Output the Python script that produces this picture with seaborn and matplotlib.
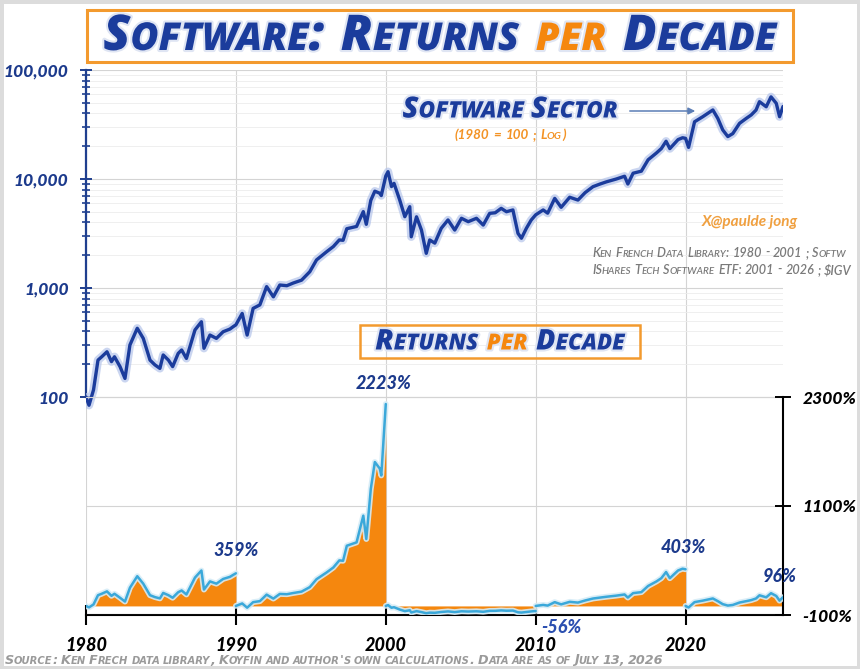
import numpy as np
import pandas as pd
import matplotlib
matplotlib.use("Agg")
import matplotlib.pyplot as plt
import matplotlib.patheffects as pe
import matplotlib.ticker as mticker
from matplotlib.offsetbox import TextArea, HPacker, AnnotationBbox
from matplotlib.patches import Rectangle, FancyArrowPatch
import seaborn as sns

# ---------------- data ----------------
years = [1980.0, 1980.2, 1980.5, 1980.8, 1981.05, 1981.4, 1981.7, 1981.9, 1982.27, 1982.6,
         1982.93, 1983.42, 1983.82, 1984.27, 1984.6, 1984.93, 1985.15, 1985.5, 1985.78, 1986.15,
         1986.38, 1986.7, 1987.27, 1987.7, 1987.87, 1988.27, 1988.7, 1989.15, 1989.6, 1989.82,
         1990.0, 1990.42, 1990.75, 1991.15, 1991.6, 1992.05, 1992.5, 1992.93, 1993.4, 1993.82,
         1994.38, 1994.93, 1995.38, 1996.05, 1996.5, 1996.9, 1997.15, 1997.4, 1998.05, 1998.5,
         1998.7, 1999.0, 1999.27, 1999.6, 1999.7, 2000.0,
         2000.15, 2000.38, 2000.55, 2000.93, 2001.27, 2001.6, 2001.7, 2002.05, 2002.38, 2002.7,
         2002.93, 2003.27, 2003.7, 2004.15, 2004.6, 2005.05, 2005.5, 2006.05, 2006.5, 2006.93,
         2007.3, 2007.7, 2008.05, 2008.48, 2008.82, 2009.05, 2009.38, 2009.7, 2010.0,
         2010.5, 2010.8, 2011.27, 2011.7, 2012.27, 2012.82, 2013.3, 2013.82, 2014.3, 2014.7,
         2015.38, 2015.93, 2016.15, 2016.5, 2017.05, 2017.5, 2018.05, 2018.38, 2018.7, 2018.95,
         2019.5, 2019.8, 2020.0,
         2020.2, 2020.6, 2021.15, 2021.82, 2022.15, 2022.48, 2022.82, 2023.15, 2023.6, 2024.05,
         2024.38, 2024.7, 2024.93, 2025.38, 2025.7, 2026.05, 2026.27, 2026.5]
index_values = [100, 84, 116, 218, 234, 260, 211, 234, 190, 148,
                300, 427, 345, 218, 197, 183, 243, 218, 190, 251,
                270, 226, 412, 490, 280, 370, 345, 397, 420, 442,
                459, 584, 370, 650, 700, 1030, 830, 1065, 1050, 1110,
                1180, 1410, 1810, 2150, 2400, 2760, 2740, 3500, 3670, 5020,
                3840, 6370, 7730, 7400, 7050, 10660,
                11670, 8520, 9120, 6410, 4510, 5570, 2950, 4500, 3400, 2080,
                2760, 2580, 3530, 4210, 3400, 4360, 4060, 4360, 3780, 4840,
                4900, 5380, 5010, 5200, 3170, 2860, 3530, 4200, 4690,
                5200, 4860, 6640, 5500, 6800, 6410, 7500, 8500, 9000, 9400,
                10000, 10600, 9000, 11300, 11800, 15000, 17300, 19000, 22200, 19000,
                23000, 23900, 23600,
                19500, 33500, 37300, 43000, 36000, 28200, 24500, 26100, 32400, 36000,
                38700, 42900, 51200, 46000, 56700, 49500, 37300, 46260]

decade_starts = [1980, 1990, 2000, 2010, 2020]
decade_labels = ["359%", "2223%", "-56%", "403%", "96%"]
x_ticks = [1980, 1990, 2000, 2010, 2020]
x_tick_labels = ["1980", "1990", "2000", "2010", "2020"]
y_ticks = [100, 1000, 10000, 100000]
y_tick_labels = ["100", "1,000", "10,000", "100,000"]
ret_ticks = [-100, 1100, 2300]
ret_tick_labels = ["-100%", "1100%", "2300%"]

# ---------------- style ----------------
sns.set_theme(style="white")
plt.rcParams['font.family'] = ['Lato', 'DejaVu Sans']

BLUE = "#1B3C9C"
NAVY = "#1C3A8C"
ORANGE = "#F5870E"
LBLUE = "#3AA8DA"
GRID = "#d4d4d4"
HEAD_FONT = ["Open Sans", "Lato", "DejaVu Sans"]

W, H = 860, 669
fig = plt.figure(figsize=(W / 100, H / 100), dpi=100)
fig.patch.set_facecolor("white")


def fx(px):
    return px / W


def fy(py):
    return 1 - py / H


rect = [fx(86), fy(615), fx(783) - fx(86), fy(70) - fy(615)]
ax1 = fig.add_axes(rect)
ax2 = ax1.twinx()

df = pd.DataFrame({"year": years, "index": index_values})

# ---------------- upper: log index ----------------
sns.lineplot(data=df, x="year", y="index", ax=ax1, color=BLUE, lw=2.4, zorder=3,
             path_effects=[pe.Stroke(linewidth=6, foreground="#b4c4ea", alpha=0.7), pe.Normal()])
ax1.set_yscale("log")
ax1.set_ylim(1, 100000)
ax1.set_xlim(1980, 2026.5)
ax1.set_xlabel("")
ax1.set_ylabel("")

ax1.yaxis.set_major_locator(mticker.FixedLocator(y_ticks))
ax1.yaxis.set_major_formatter(mticker.FixedFormatter(y_tick_labels))
minor = [m * 10 ** e for e in (2, 3, 4) for m in range(2, 10)]
ax1.yaxis.set_minor_locator(mticker.FixedLocator(minor))
ax1.yaxis.set_minor_formatter(mticker.NullFormatter())
ax1.set_xticks(x_ticks)
ax1.set_xticklabels(x_tick_labels)

ax1.grid(True, which="major", axis="y", color=GRID, lw=0.8)
ax1.grid(True, which="minor", axis="y", color="#ececec", lw=0.6)
ax1.grid(True, which="major", axis="x", color=GRID, lw=0.8)
ax1.set_axisbelow(True)

for s in ("top", "right"):
    ax1.spines[s].set_visible(False)
ax1.spines["left"].set_bounds(100, 100000)
ax1.spines["left"].set_color("#1F3F8F")
ax1.spines["left"].set_linewidth(1.6)
ax1.spines["bottom"].set_color("black")
ax1.spines["bottom"].set_linewidth(1.5)

ax1.tick_params(axis="y", which="major", direction="inout", length=9, width=1.4,
                color="#1F3F8F", left=True, pad=8, labelsize=12.5, labelcolor=NAVY)
ax1.tick_params(axis="y", which="minor", direction="inout", length=6, width=1.2,
                color="#1F3F8F", left=True)
ax1.tick_params(axis="x", which="major", direction="inout", length=14, width=1.5,
                color="black", bottom=True, pad=9, labelsize=13, labelcolor="black")
for lab in ax1.get_yticklabels():
    lab.set_fontweight("black")
    lab.set_fontstyle("italic")
for lab in ax1.get_xticklabels():
    lab.set_fontweight("black")
    lab.set_fontstyle("italic")

# ---------------- lower: returns per decade ----------------
segs = []
for i, d in enumerate(decade_starts):
    end = decade_starts[i + 1] if i + 1 < len(decade_starts) else 1e9
    seg = df[(df["year"] >= d) & (df["year"] <= end)].copy()
    seg["ret"] = (seg["index"] / seg["index"].iloc[0] - 1) * 100
    segs.append(seg)
    ax2.fill_between(seg["year"], 0, seg["ret"], color=ORANGE, lw=0, zorder=2)
    sns.lineplot(data=seg, x="year", y="ret", ax=ax2, color=LBLUE, lw=1.8, zorder=3,
                 path_effects=[pe.Stroke(linewidth=4.2, foreground="#d5ecf7", alpha=0.9), pe.Normal()])

ax2.set_ylim(-100, 5900)
ax2.set_xlim(1980, 2026.5)
ax2.set_ylabel("")
ax2.set_xlabel("")
ax2.set_yticks(ret_ticks)
ax2.set_yticklabels(ret_tick_labels)
ax2.grid(True, axis="y", color=GRID, lw=0.8)
ax2.grid(False, axis="x")
for s in ("top", "left", "bottom"):
    ax2.spines[s].set_visible(False)
ax2.spines["right"].set_bounds(-100, 2300)
ax2.spines["right"].set_color("black")
ax2.spines["right"].set_linewidth(1.5)
ax2.tick_params(axis="y", direction="inout", length=12, width=1.4, color="black",
                right=True, pad=8, labelsize=12.5, labelcolor="black")
for lab in ax2.get_yticklabels():
    lab.set_fontweight("black")
    lab.set_fontstyle("italic")

# decade labels
label_offsets = [(0, 23), (-2, 21), (26, -16), (-2, 22), (-3, 21)]
for seg, lab, (ox, oy) in zip(segs, decade_labels, label_offsets):
    xe = seg["year"].iloc[-1]
    ye = seg["ret"].iloc[-1]
    if lab == "2223%":
        ye = seg["ret"].max()
    col = "#2B4FB0" if lab.startswith("-") else NAVY
    ax2.annotate(lab, (xe, ye), xytext=(ox * 0.72, oy * 0.72), textcoords="offset points",
                 ha="center", va="center", fontsize=13, fontweight="black",
                 fontstyle="italic", color=col, zorder=6)


# ---------------- small-caps helper ----------------
def sc_word(word, color, size, ratio=0.78, weight="black", style="italic", family=None,
            effects=None):
    runs = []
    cur, cur_low = "", None
    for ch in word:
        low = ch.islower()
        if cur and low != cur_low:
            runs.append((cur, cur_low))
            cur = ""
        cur += ch
        cur_low = low
    if cur:
        runs.append((cur, cur_low))
    kids = []
    for r, low in runs:
        tp = dict(color=color, fontsize=size * (ratio if low else 1.0), fontweight=weight,
                  fontstyle=style)
        if family:
            tp["family"] = family
        if effects:
            tp["path_effects"] = effects
        kids.append(TextArea(r.upper() if low else r, textprops=tp))
    return HPacker(children=kids, align="baseline", pad=0, sep=0)


def sc_text(words, cx, cy, size, gap, align=(0.5, 0.5), **kw):
    boxes = [sc_word(w, c, size, **kw) for w, c in words]
    pack = HPacker(children=boxes, align="baseline", pad=0, sep=gap)
    ab = AnnotationBbox(pack, (fx(cx), fy(cy)), xycoords="figure fraction",
                        frameon=False, box_alignment=align, pad=0)
    fig.add_artist(ab)
    return ab


glow = [pe.withStroke(linewidth=3, foreground="#dfe5f3")]

# title
fig.add_artist(Rectangle((fx(87), fy(62)), fx(793) - fx(87), fy(10) - fy(62),
                         transform=fig.transFigure, fill=False, edgecolor="#F39A2E", lw=2.2))
sc_text([("Software:", BLUE), ("Returns", BLUE), ("per", ORANGE), ("Decade", BLUE)],
        440, 37, 35.5, 12, effects=glow, family=HEAD_FONT, weight="heavy")

# sector annotation
sc_text([("Software", BLUE), ("Sector", BLUE)], 510, 110, 21, 5, effects=glow,
        family=HEAD_FONT, weight="heavy")
sc_text([("(1980", "#F39325"), ("=", "#F39325"), ("100", "#F39325"), (";", "#F39325"),
         ("Log)", "#F39325")], 510, 135, 9.6, 3, weight="bold")
fig.add_artist(FancyArrowPatch((fx(627), fy(111)), (fx(698), fy(111)),
                               transform=fig.transFigure, arrowstyle="-|>",
                               mutation_scale=10, color="#5B7DB5", lw=1.1))

# signature and data source notes
fig.text(fx(702), fy(222), "X@paulde jong", color="#F0A040", fontsize=11,
         fontstyle="italic", fontweight="bold", ha="left", va="center")
sc_text([(w, "#7a7a7a") for w in "Ken French Data Library: 1980 - 2001 ; Softw".split(" ")],
        592, 253, 9.1, 2.3, align=(0, 0.5), weight="semibold")
sc_text([(w, "#7a7a7a") for w in "IShares Tech Software ETF: 2001 - 2026 ; $IGV".split(" ")],
        592, 270, 9.1, 2.3, align=(0, 0.5), weight="semibold")

# returns-per-decade box
fig.add_artist(Rectangle((fx(360), fy(358)), fx(640) - fx(360), fy(325) - fy(358),
                         transform=fig.transFigure, fill=False, edgecolor="#F39A2E", lw=1.8))
sc_text([("Returns", BLUE), ("per", ORANGE), ("Decade", BLUE)], 500, 342, 20.5, 6,
        effects=glow, family=HEAD_FONT, weight="heavy")

# source footer
src = "Source: Ken Frech data library, Koyfin and author's own calculations. Data are as of July 13, 2026"
sc_text([(w, "#9a9a9a") for w in src.split(" ")], 5, 660, 9.2, 2.2, align=(0, 0.5),
        weight="bold", family=["Liberation Sans Narrow", "DejaVu Sans"])

# light frame around the picture
fig.add_artist(Rectangle((0, 0), 1, 1, transform=fig.transFigure, fill=False,
                         edgecolor="#dcdcdc", lw=5))

fig.savefig("out.png", dpi=100)
